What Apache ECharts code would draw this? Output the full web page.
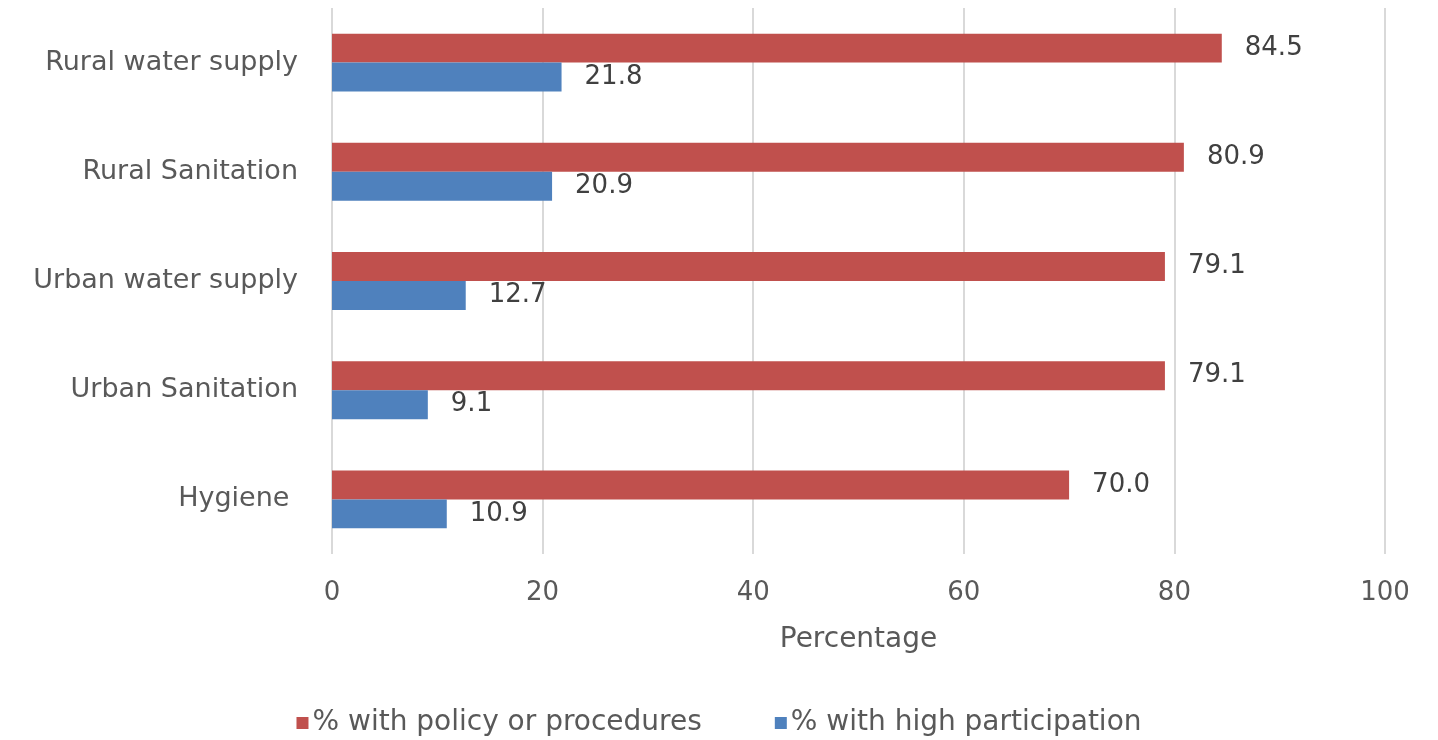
<!DOCTYPE html>
<html>
<head>
<meta charset="utf-8">
<script src="https://cdn.jsdelivr.net/npm/echarts@6/dist/echarts.min.js"></script>
<style>
  html, body { margin: 0; padding: 0; background: #ffffff; }
  #chart { width: 1438px; height: 740px; }
</style>
</head>
<body>
<div id="chart"></div>
<script>
// Sector categories, listed top to bottom
const categories = ['Rural water supply', 'Rural Sanitation', 'Urban water supply', 'Urban Sanitation', 'Hygiene '];
const policyValues = [84.5, 80.9, 79.1, 79.1, 70.0];
const participationValues = [21.8, 20.9, 12.7, 9.1, 10.9];
const seriesNames = ['% with policy or procedures', '% with high participation'];
const xTicks = [0, 20, 40, 60, 80, 100];

const FONT = '"DejaVu Sans", sans-serif';
const TEXT = '#595959';

const chart = echarts.init(document.getElementById('chart'), null, { renderer: 'canvas' });

const labelStyle = {
  show: true,
  position: 'right',
  distance: 23,
  color: '#404040',
  fontFamily: FONT,
  fontSize: 26,
  formatter: p => p.value.toFixed(1)
};

chart.setOption({
  animation: false,
  backgroundColor: '#ffffff',
  grid: { left: 332, right: 53, top: 8, bottom: 186, containLabel: false },
  legend: {
    top: 704,
    left: 'center',
    itemWidth: 12,
    itemHeight: 12,
    itemGap: 73,
    icon: 'rect',
    textStyle: { color: TEXT, fontFamily: FONT, fontSize: 28, padding: [0, 0, 0, -1] },
    data: seriesNames
  },
  xAxis: {
    type: 'value',
    min: xTicks[0],
    max: xTicks[xTicks.length - 1],
    interval: xTicks[1] - xTicks[0],
    name: 'Percentage',
    nameLocation: 'middle',
    nameGap: 72,
    nameTextStyle: { color: TEXT, fontFamily: FONT, fontSize: 28 },
    axisLine: { show: false },
    axisTick: { show: false },
    axisLabel: { color: TEXT, fontFamily: FONT, fontSize: 26, margin: 26 },
    splitLine: { show: true, lineStyle: { color: '#d9d9d9', width: 2 } }
  },
  yAxis: {
    type: 'category',
    inverse: true,
    data: categories,
    axisLine: { show: false },
    axisTick: { show: false },
    axisLabel: { color: TEXT, fontFamily: FONT, fontSize: 27, margin: 34 }
  },
  series: [
    {
      name: seriesNames[0],
      type: 'bar',
      data: policyValues,
      itemStyle: { color: '#c0504d' },
      barGap: '0%',
      barCategoryGap: '47%',
      label: labelStyle
    },
    {
      name: seriesNames[1],
      type: 'bar',
      data: participationValues,
      itemStyle: { color: '#4f81bd' },
      barGap: '0%',
      barCategoryGap: '47%',
      label: labelStyle
    }
  ]
});
</script>
</body>
</html>
